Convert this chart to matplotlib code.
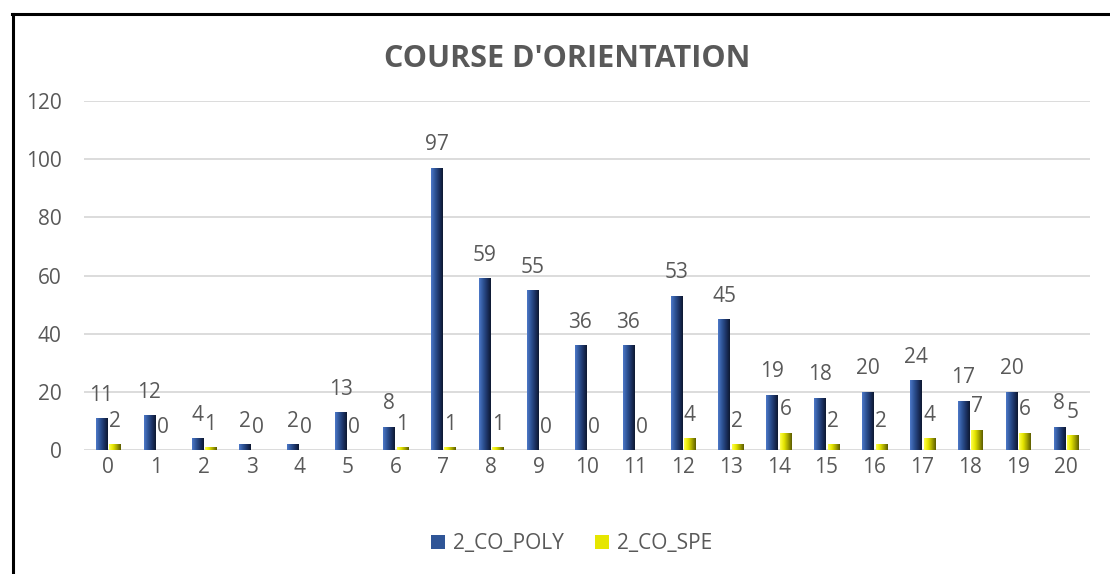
import numpy as np
import matplotlib
matplotlib.use('Agg')
from matplotlib import pyplot as plt
from matplotlib.colors import LinearSegmentedColormap
from matplotlib.lines import Line2D

categories = [str(i) for i in range(21)]
co_poly = [11, 12, 4, 2, 2, 13, 8, 97, 59, 55, 36, 36, 53, 45, 19, 18, 20, 24, 17, 20, 8]
co_spe = [2, 0, 1, 0, 0, 0, 1, 1, 1, 0, 0, 0, 4, 2, 6, 2, 2, 4, 7, 6, 5]
series_names = ['2_CO_POLY', '2_CO_SPE']

plt.rcParams['font.family'] = ['Open Sans', 'DejaVu Sans']
txt_color = '#595959'

blue_cmap = LinearSegmentedColormap.from_list('blue', ['#4d78c8', '#2f5597', '#1c3366', '#0e1830'])
yel_cmap = LinearSegmentedColormap.from_list('yel', ['#ffff4d', '#e6e600', '#a6a600', '#5c5c00'])


def fill_gradient(ax, bars, cmap):
    grad = np.linspace(0, 1, 64).reshape(1, -1)
    for b in bars:
        x, y = b.get_xy()
        w, h = b.get_width(), b.get_height()
        if h <= 0:
            continue
        im = ax.imshow(grad, cmap=cmap, extent=(x, x + w, y, y + h),
                       aspect='auto', zorder=3, interpolation='bilinear')
        im.set_clip_path(b)
        b.set_facecolor('none')


fig = plt.figure(figsize=(11.1, 5.74), dpi=100)
ax = fig.add_axes([84 / 1110, 1 - 450 / 574, 1006 / 1110, 349 / 574])

x = np.arange(len(categories))
w = 0.23
off = 0.14
bars1 = ax.bar(x - off, co_poly, w, color='#2f5597', linewidth=0, zorder=3, label=series_names[0])
bars2 = ax.bar(x + off, co_spe, w, color='#e6e600', linewidth=0, zorder=3, label=series_names[1])
fill_gradient(ax, bars1, blue_cmap)
fill_gradient(ax, bars2, yel_cmap)

for xs, vals in ((x - off, co_poly), (x + off, co_spe)):
    for xi, v in zip(xs, vals):
        ax.annotate(str(v), (xi, v), xytext=(0, 16.5), textcoords='offset points',
                    ha='center', va='center', fontsize=15, color=txt_color)

ax.set_xlim(-0.5, len(categories) - 0.5)
ax.set_ylim(0, 120)
ax.set_yticks(range(0, 121, 20))
ax.set_xticks(x)
ax.set_xticklabels(categories)
ax.grid(axis='y', color='#d9d9d9', linewidth=1.3, zorder=0)
ax.set_axisbelow(True)
for s in ax.spines.values():
    s.set_visible(False)
ax.tick_params(length=0, labelsize=15, colors=txt_color)
ax.tick_params(axis='y', pad=16)
ax.tick_params(axis='x', pad=5)

fig.text(567 / 1110, 1 - 59 / 574, "COURSE D'ORIENTATION", ha='center', va='center',
         fontsize=22, fontweight='bold', color=txt_color)

leg = fig.legend(loc='center', bbox_to_anchor=(572 / 1110, 1 - 544 / 574), ncol=2, frameon=False,
                 fontsize=15, handlelength=0.65, handleheight=0.65, handletextpad=0.4, columnspacing=1.5)
for t in leg.get_texts():
    t.set_color(txt_color)
leg.legend_handles[0].set_facecolor('#2f5597')
leg.legend_handles[1].set_facecolor('#e6e600')

# frame of the chart area
fig.add_artist(Line2D([13 / 1110, 13 / 1110], [0, 1 - 14 / 574], color='black', linewidth=2.2))
fig.add_artist(Line2D([12 / 1110, 1.0], [1 - 14 / 574, 1 - 14 / 574], color='black', linewidth=2.2))

fig.savefig('out.png', dpi=100)
